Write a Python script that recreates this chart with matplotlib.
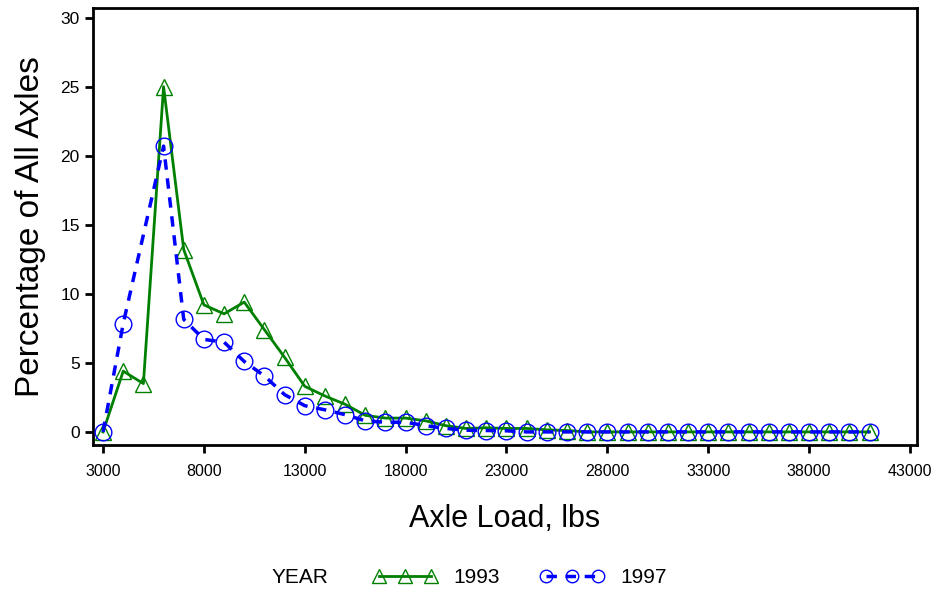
import numpy as np
import matplotlib
matplotlib.use("Agg")
import matplotlib.pyplot as plt
from matplotlib.lines import Line2D

plt.rcParams['font.family'] = ['Liberation Sans', 'DejaVu Sans']

# Data
loads_1993 = list(range(3000, 42000, 1000))
pct_1993 = [0.0, 4.4, 3.5, 25.0, 13.2, 9.2, 8.55, 9.4, 7.4, 5.4, 3.3, 2.6, 2.0,
            1.2, 1.0, 1.0, 0.8, 0.45, 0.25, 0.3, 0.25, 0.25, 0.15, 0.1,
            0.0, 0.0, 0.0, 0.0, 0.0, 0.0, 0.0, 0.0, 0.0, 0.0, 0.0, 0.0, 0.0, 0.0, 0.0]
loads_1997 = [3000, 4000] + list(range(6000, 42000, 1000))
pct_1997 = [0.0, 7.85, 20.7, 8.15, 6.7, 6.5, 5.1, 4.05, 2.7, 1.9, 1.6, 1.25,
            0.8, 0.7, 0.7, 0.45, 0.25, 0.12, 0.1, 0.08, 0.0, 0.0,
            0.0, 0.0, 0.0, 0.0, 0.0, 0.0, 0.0, 0.0, 0.0, 0.0, 0.0, 0.0, 0.0, 0.0, 0.0, 0.0]
x_ticks = list(range(3000, 43001, 5000))
y_ticks = list(range(0, 31, 5))

fig = plt.figure(figsize=(9.4, 5.94), dpi=100)
ax = fig.add_axes([0.0989, 0.2508, 0.8766, 0.7357])

green = '#008000'
blue = '#0000ff'
ax.plot(loads_1993, pct_1993, color=green, lw=2, marker='^', ms=12,
        mfc='none', mec=green, mew=1.0, zorder=3)
ax.plot(loads_1997, pct_1997, color=blue, lw=2.5, ls=(0, (3, 2.5)), marker='o',
        ms=12, mfc='none', mec=blue, mew=1.0, zorder=4)

ax.set_xlim(2500, 43350)
ax.set_ylim(-0.95, 30.7)
ax.set_xticks(x_ticks)
ax.set_yticks(y_ticks)
ax.tick_params(axis='both', direction='out', length=6, width=2)
ax.tick_params(axis='x', pad=8, labelsize=11.5)
ax.tick_params(axis='y', labelsize=12.5)
for s in ax.spines.values():
    s.set_linewidth(2)

ax.set_xlabel('Axle Load, lbs', fontsize=22, labelpad=18)
ax.set_ylabel('Percentage of All Axles', fontsize=24, labelpad=10)

h1 = Line2D([], [], color=green, lw=2, marker='^', ms=10, mfc='none', mec=green, mew=1.0)
h2 = Line2D([], [], color=blue, lw=2.5, ls=(0, (3, 2.5)), marker='o', ms=9,
            mfc='none', mec=blue, mew=1.0)
fig.text(0.289, 0.018, 'YEAR', fontsize=15, ha='left', va='baseline')
fig.legend([h1, h2], ['1993', '1997'], loc='center', bbox_to_anchor=(0.553, 0.027),
           ncol=2, frameon=False, numpoints=3, handlelength=3.1, fontsize=15,
           columnspacing=1.9, handletextpad=0.8)

fig.savefig('out.png', dpi=100)
